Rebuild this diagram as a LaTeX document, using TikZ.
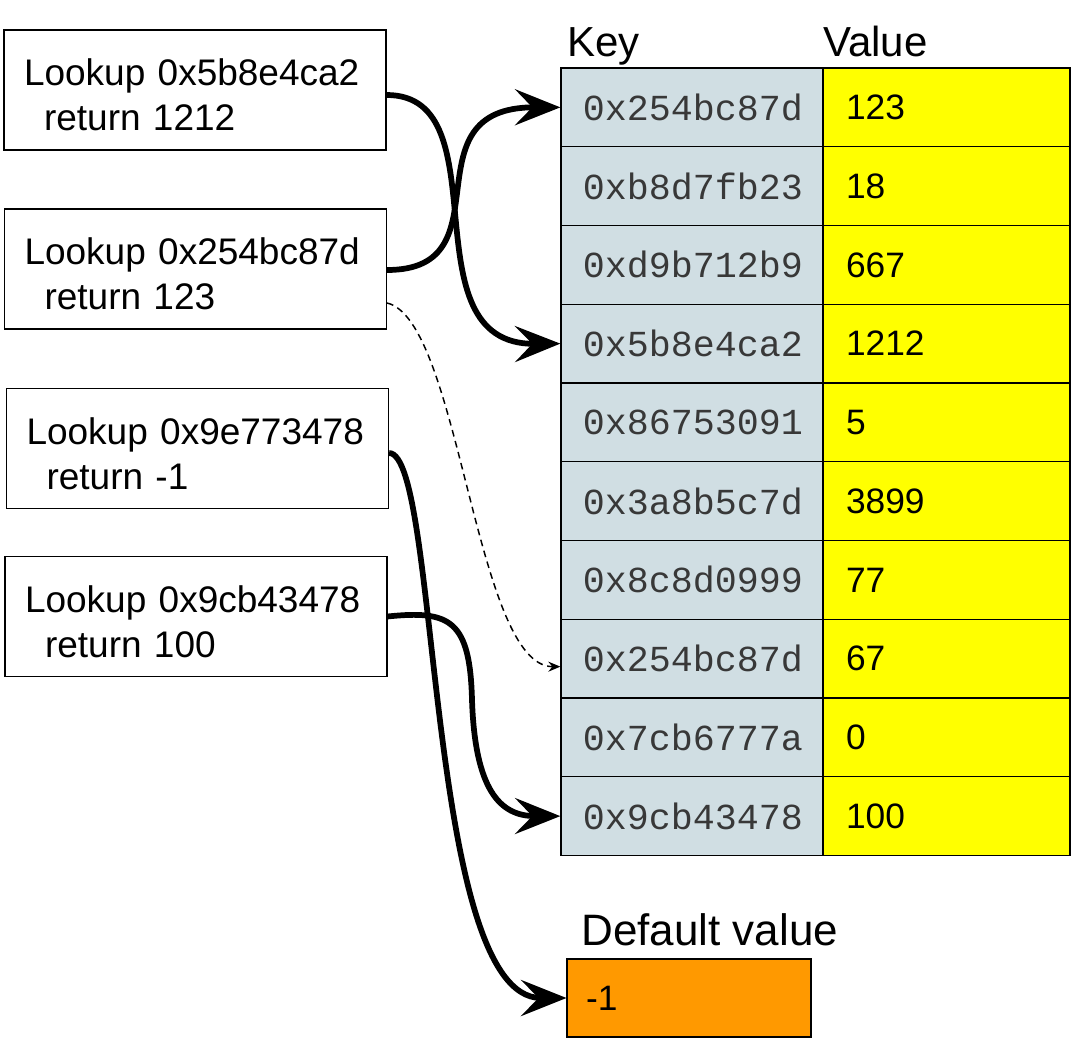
\documentclass[tikz,border=0pt]{standalone}
\usepackage{fontspec}
\setmainfont{Liberation Sans}
\newfontfamily\keyfont{Liberation Mono}
\usetikzlibrary{arrows.meta}
\definecolor{keyfill}{RGB}{208,222,227}
\definecolor{valfill}{RGB}{255,255,0}
\definecolor{deffill}{RGB}{255,153,0}
\newcommand\topstrut{\rule{0pt}{27.75pt}}
\begin{document}
\begin{tikzpicture}[x=0.75pt,y=-0.75pt,
  lookup/.style={draw, line width=0.8pt, minimum height=90pt, text width=256.5pt, inner xsep=15pt, inner ysep=0pt, align=left, font=\fontsize{27.75pt}{33.75pt}\selectfont},
  keycell/.style={draw, line width=1pt, fill=keyfill, minimum width=198pt, minimum height=59.06pt, inner sep=0pt, font=\keyfont\fontsize{27.5pt}{30pt}\selectfont, text=black!78},
  valcell/.style={draw, line width=1pt, fill=valfill, minimum height=59.06pt, text width=150.75pt, inner xsep=17.25pt, inner ysep=0pt, align=left, font=\fontsize{26.5pt}{30pt}\selectfont},
  header/.style={anchor=base west, inner sep=0pt, font=\fontsize{31.5pt}{36pt}\selectfont},
  link/.style={line width=4.3pt, -{Stealth[length=34pt,width=27pt,inset=13pt]}},
  weak/.style={line width=1.1pt, dash pattern=on 5pt off 3.5pt, -{Stealth[length=9pt,width=7.5pt,inset=3pt]}}
]
\useasboundingbox (0,0) rectangle (1077,1044);
\fill[white] (0,0) rectangle (1077,1044);

% lookup boxes
\node[lookup] (q1) at (195,90) {\topstrut Lookup 0x5b8e4ca2\\\hspace*{15pt}return 1212};
\node[lookup] (q2) at (195.5,269) {\topstrut Lookup 0x254bc87d\\\hspace*{15pt}return 123};
\node[lookup] (q3) at (197.5,448.5) {\topstrut Lookup 0x9e773478\\\hspace*{15pt}return -1};
\node[lookup] (q4) at (196,616.5) {\topstrut Lookup 0x9cb43478\\\hspace*{15pt}return 100};

% headers
\node[header] (hk) at (567,57) {Key};
\node[header] (hv) at (823,57) {Value};

% table
\foreach \k/\v [count=\i] in {0x254bc87d/123, 0xb8d7fb23/18, 0xd9b712b9/667, 0x5b8e4ca2/1212, 0x86753091/5, 0x3a8b5c7d/3899, 0x8c8d0999/77, 0x254bc87d/67, 0x7cb6777a/0, 0x9cb43478/100} {
  \node[keycell] (k\i) at (693, {68+78.75*(\i-0.5)}) {\k};
}
\foreach \k/\v [count=\i] in {0x254bc87d/123, 0xb8d7fb23/18, 0xd9b712b9/667, 0x5b8e4ca2/1212, 0x86753091/5, 0x3a8b5c7d/3899, 0x8c8d0999/77, 0x254bc87d/67, 0x7cb6777a/0, 0x9cb43478/100} {
  \node[valcell] (v\i) at (946.5, {68+78.75*(\i-0.5)}) {\v};
}

% default value
\node[header, font=\fontsize{33pt}{38pt}\selectfont] (hd) at (581,945) {Default value};
\node[draw, line width=0.8pt, fill=deffill, minimum height=58.5pt, text width=154.5pt, inner xsep=14.25pt, inner ysep=0pt, align=left, font=\fontsize{26.5pt}{30pt}\selectfont] (dv) at (689,998) {-1};

% connectors
\draw[link] ([yshift=-3.75pt]q1.east) .. controls (504,95) and (404,345) .. (k4.west);
\draw[link] ([yshift=-0.75pt]q2.east) .. controls (510,270) and (403,107) .. (k1.west);
\draw[weak] ([yshift=-25.5pt]q2.east) .. controls (460,320) and (475,667) .. ([yshift=-6pt]k8.west);
\draw[link] ([yshift=-3.4pt]q3.east) .. controls (440,453) and (425,998) .. (dv.west);
\draw[link] (q4.east) .. controls (450,610) and (470,620) .. (472,700) .. controls (475,790) and (500,816) .. (k10.west);
\end{tikzpicture}
\end{document}
